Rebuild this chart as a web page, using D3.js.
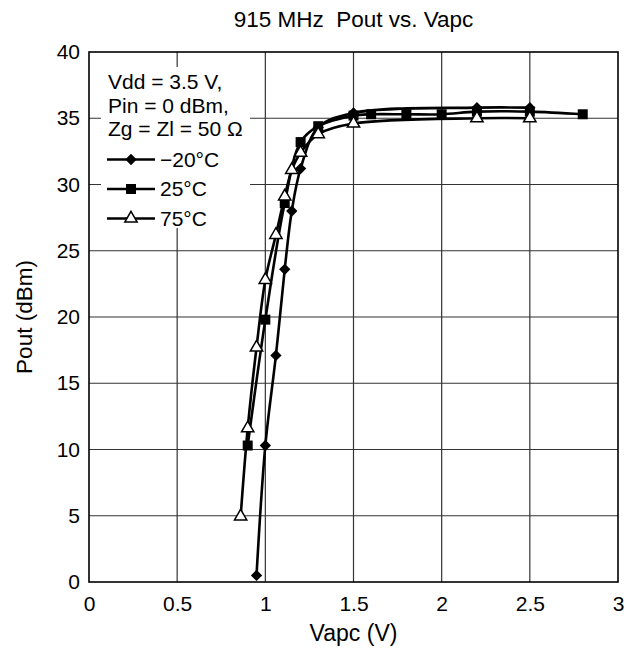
<!DOCTYPE html>
<html>
<head>
<meta charset="utf-8">
<script src="https://cdn.jsdelivr.net/npm/d3@7"></script>
<style>
  body { margin: 0; background: #fff; }
  svg { display: block; font-family: "Liberation Sans", Arial, sans-serif; }
</style>
</head>
<body>
<svg id="chart" width="627" height="652"></svg>
<script>
// Data
const seriesNames = ["\u221220\u00b0C", "25\u00b0C", "75\u00b0C"];
const vapcCold = [0.95, 1.0, 1.06, 1.11, 1.15, 1.2, 1.3, 1.5, 2.2, 2.5];
const poutCold = [0.5, 10.3, 17.1, 23.6, 28.0, 31.2, 34.3, 35.4, 35.8, 35.8];
const vapcRoom = [0.9, 1.0, 1.11, 1.2, 1.3, 1.5, 1.6, 1.8, 2.0, 2.2, 2.5, 2.8];
const poutRoom = [10.3, 19.8, 28.6, 33.2, 34.4, 35.2, 35.3, 35.3, 35.3, 35.5, 35.5, 35.3];
const vapcHot = [0.86, 0.9, 0.95, 1.0, 1.06, 1.11, 1.15, 1.2, 1.3, 1.5, 2.2, 2.5];
const poutHot = [4.95, 11.6, 17.7, 22.8, 26.2, 29.1, 31.1, 32.4, 33.8, 34.6, 35.0, 35.0];
const xTicks = [0, 0.5, 1, 1.5, 2, 2.5, 3];
const yTicks = [0, 5, 10, 15, 20, 25, 30, 35, 40];
const noteLines = ["Vdd = 3.5 V,", "Pin = 0 dBm,", "Zg = Zl = 50 \u03a9"];

const svg = d3.select("#chart");
const margin = { top: 52, right: 9, bottom: 70, left: 89 };
const width = +svg.attr("width"), height = +svg.attr("height");
const plotWidth = width - margin.left - margin.right;
const plotHeight = height - margin.top - margin.bottom;

const g = svg.append("g").attr("transform", `translate(${margin.left},${margin.top})`);

const x = d3.scaleLinear().domain([0, 3]).range([0, plotWidth]);
const y = d3.scaleLinear().domain([0, 40]).range([plotHeight, 0]);

// grid
g.append("g")
  .selectAll("line")
  .data(xTicks.slice(1, -1))
  .join("line")
  .attr("x1", d => x(d)).attr("x2", d => x(d))
  .attr("y1", 0).attr("y2", plotHeight)
  .attr("stroke", "#333").attr("stroke-width", 1.2);

g.append("g")
  .selectAll("line")
  .data(yTicks.slice(1, -1))
  .join("line")
  .attr("x1", 0).attr("x2", plotWidth)
  .attr("y1", d => y(d)).attr("y2", d => y(d))
  .attr("stroke", "#333").attr("stroke-width", 1.2);

// axes (labels only, frame drawn below)
const xAxis = g.append("g")
  .attr("transform", `translate(0,${plotHeight})`)
  .call(d3.axisBottom(x).tickValues(xTicks).tickSize(0).tickPadding(14).tickFormat(d3.format("")));
const yAxis = g.append("g")
  .call(d3.axisLeft(y).tickValues(yTicks).tickSize(0).tickPadding(9));
[xAxis, yAxis].forEach(a => {
  a.select(".domain").remove();
  a.selectAll("text").style("font-size", "21px").attr("fill", "#000")
    .style("font-family", "'Liberation Sans', Arial, sans-serif");
});

// legend background covers the grid
const legendBox = { x: 12, y: 15, w: 149, h: 161 };
g.append("rect")
  .attr("x", legendBox.x).attr("y", legendBox.y)
  .attr("width", legendBox.w).attr("height", legendBox.h)
  .attr("fill", "#fff");

// series lines
const line = d3.line()
  .x(d => x(d[0]))
  .y(d => y(d[1]))
  .curve(d3.curveCatmullRom.alpha(0.5));

const series = [
  { name: seriesNames[0], pts: d3.zip(vapcCold, poutCold), symbol: "diamond" },
  { name: seriesNames[1], pts: d3.zip(vapcRoom, poutRoom), symbol: "square" },
  { name: seriesNames[2], pts: d3.zip(vapcHot, poutHot), symbol: "triangle" }
];

function drawMarker(sel, kind) {
  if (kind === "diamond") {
    sel.append("path").attr("d", d3.symbol(d3.symbolSquare, 64)())
      .attr("transform", "rotate(45)").attr("fill", "#000");
  } else if (kind === "square") {
    sel.append("path").attr("d", d3.symbol(d3.symbolSquare, 100)())
      .attr("fill", "#000");
  } else {
    sel.append("path").attr("d", d3.symbol(d3.symbolTriangle, 66)())
      .attr("fill", "#fff").attr("stroke", "#000").attr("stroke-width", 1.5);
  }
}

series.forEach(s => {
  g.append("path")
    .datum(s.pts)
    .attr("fill", "none")
    .attr("stroke", "#000")
    .attr("stroke-width", 2.6)
    .attr("d", line);
});

series.forEach(s => {
  s.pts.forEach(p => {
    const m = g.append("g").attr("transform", `translate(${x(p[0])},${y(p[1])})`);
    drawMarker(m, s.symbol);
  });
});

// frame
g.append("rect")
  .attr("width", plotWidth).attr("height", plotHeight)
  .attr("fill", "none").attr("stroke", "#000").attr("stroke-width", 1.6);

// legend text
noteLines.forEach((t, i) => {
  g.append("text")
    .attr("x", 19).attr("y", 37 + i * 23.5)
    .style("font-size", "21px")
    .text(t);
});

series.forEach((s, i) => {
  const cy = 107.5 + i * 29.5;
  g.append("line")
    .attr("x1", 18).attr("x2", 66)
    .attr("y1", cy).attr("y2", cy)
    .attr("stroke", "#000").attr("stroke-width", 2.6);
  const m = g.append("g").attr("transform", `translate(42,${cy})`);
  drawMarker(m, s.symbol);
  g.append("text")
    .attr("x", 71).attr("y", cy + 7)
    .style("font-size", "21px")
    .text(s.name);
});

// title and axis titles
svg.append("text")
  .attr("x", margin.left + x(1.5)).attr("y", 27)
  .attr("text-anchor", "middle")
  .style("font-size", "22.5px")
  .text("915 MHz\u00a0 Pout vs. Vapc");

svg.append("text")
  .attr("x", margin.left + x(1.5)).attr("y", 641)
  .attr("text-anchor", "middle")
  .style("font-size", "23px")
  .text("Vapc (V)");

svg.append("text")
  .attr("transform", `translate(32,${margin.top + plotHeight / 2}) rotate(-90)`)
  .attr("text-anchor", "middle")
  .style("font-size", "22.5px")
  .text("Pout (dBm)");
</script>
</body>
</html>
